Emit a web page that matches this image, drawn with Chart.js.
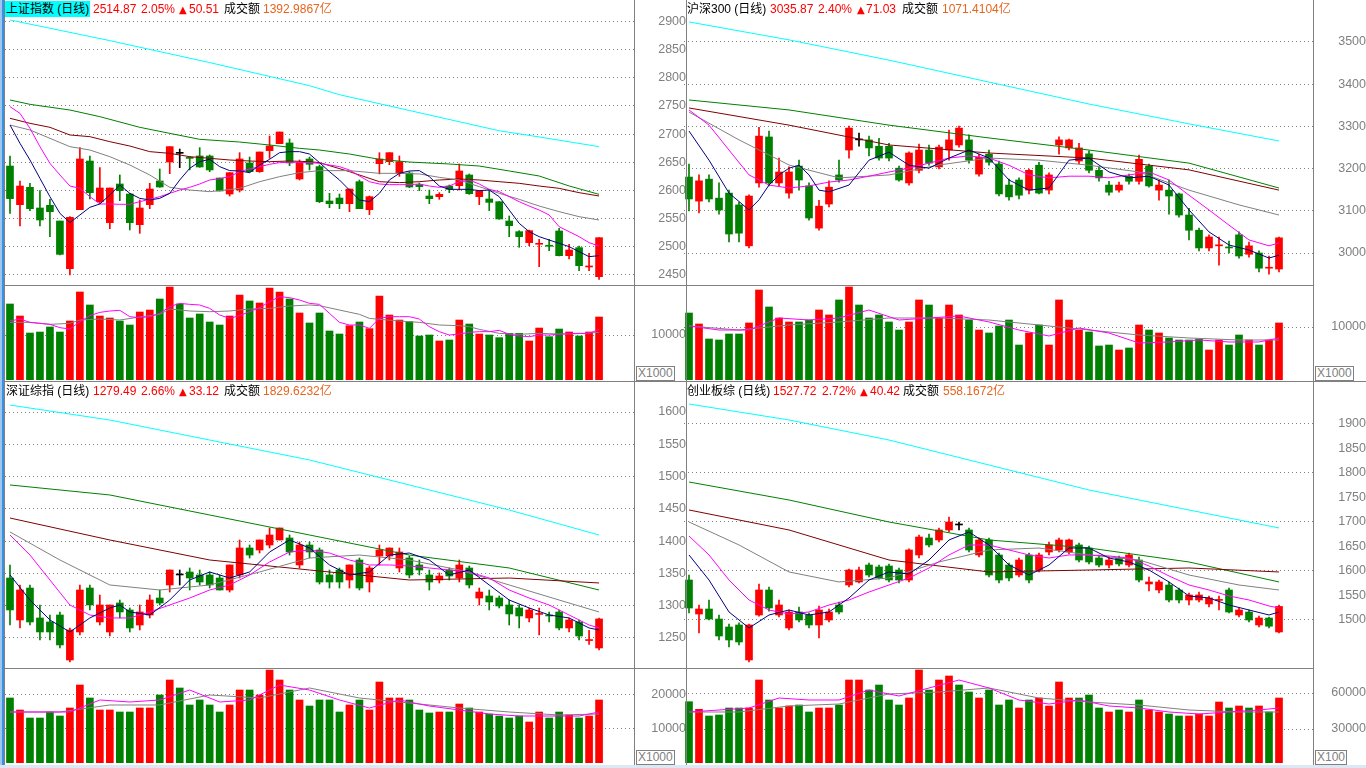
<!DOCTYPE html>
<html>
<head>
<meta charset="utf-8">
<script src="https://cdn.jsdelivr.net/npm/chart.js@4.4.0/dist/chart.umd.min.js"></script>
<style>
  body { margin: 0; width: 1366px; height: 768px; overflow: hidden; background: #fff; position: relative;
         font-family: "Liberation Sans", "Noto Sans CJK SC", sans-serif; }
  canvas { position: absolute; }
  .ln { position: absolute; background: #808080; }
  .hd { position: absolute; font-size: 12px; line-height: 16px; white-space: nowrap; top: 0; }
  .hd span { position: absolute; top: 1px; }
  .t { color: #000; }
  .r { color: #ff0000; }
  .o { color: #e8641e; }
  .tri { font-family: "DejaVu Sans", sans-serif; font-size: 10px; color: #ff0000; top: 2px !important; }
  .unit { position: absolute; border: 1px solid #808080; color: #808080; font-size: 12px; line-height: 13px;
          padding: 0 1px; background: #fff; }
</style>
</head>
<body>

<canvas id="shP" width="681" height="285" style="left:5px;top:0px"></canvas>
<canvas id="shV" width="681" height="94" style="left:5px;top:286px"></canvas>
<canvas id="hsP" width="682" height="285" style="left:684px;top:0px"></canvas>
<canvas id="hsV" width="682" height="94" style="left:684px;top:286px"></canvas>
<canvas id="szP" width="681" height="286" style="left:5px;top:382px"></canvas>
<canvas id="szV" width="681" height="94" style="left:5px;top:669px"></canvas>
<canvas id="cyP" width="682" height="286" style="left:684px;top:382px"></canvas>
<canvas id="cyV" width="682" height="94" style="left:684px;top:669px"></canvas>

<!-- panel frames -->
<div class="ln" style="left:634px;top:0;width:1px;height:765px"></div>
<div class="ln" style="left:686px;top:0;width:1px;height:765px"></div>
<div class="ln" style="left:1313px;top:0;width:1px;height:765px"></div>
<div class="ln" style="left:5px;top:285px;width:1309px;height:1px"></div>
<div class="ln" style="left:0;top:381px;width:1366px;height:1px"></div>
<div class="ln" style="left:5px;top:668px;width:1309px;height:1px"></div>
<div style="position:absolute;left:0;top:0;width:2px;height:768px;background:#9cc7ef"></div>
<div style="position:absolute;left:2px;top:0;width:2px;height:768px;background:#3d8fe0"></div>
<div class="ln" style="left:4px;top:0;width:1px;height:765px"></div>
<div style="position:absolute;left:0;top:765px;width:1366px;height:3px;background:#dde8f5"></div>

<div class="unit" style="left:636px;top:366px">X1000</div>
<div class="unit" style="left:1315px;top:366px">X1000</div>
<div class="unit" style="left:636px;top:750px">X1000</div>
<div class="unit" style="left:1315px;top:750px">X100</div>

<!-- headers -->
<div class="hd" style="left:0;top:0">
  <span class="t" style="left:5px;background:#00ffff;padding:0 1px;top:1px">上证指数 (日线)</span>
  <span class="r" style="left:93px">2514.87</span>
  <span class="r" style="left:141px">2.05%</span>
  <span class="tri" style="left:179px">▲</span>
  <span class="r" style="left:189px">50.51</span>
  <span class="t" style="left:224px">成交额</span>
  <span class="o" style="left:263px">1392.9867亿</span>
</div>
<div class="hd" style="left:0;top:0">
  <span class="t" style="left:687px">沪深300 (日线)</span>
  <span class="r" style="left:770px">3035.87</span>
  <span class="r" style="left:818px">2.40%</span>
  <span class="tri" style="left:857px">▲</span>
  <span class="r" style="left:866px">71.03</span>
  <span class="t" style="left:902px">成交额</span>
  <span class="o" style="left:942px">1071.4104亿</span>
</div>
<div class="hd" style="left:0;top:382px">
  <span class="t" style="left:6px">深证综指 (日线)</span>
  <span class="r" style="left:93px">1279.49</span>
  <span class="r" style="left:141px">2.66%</span>
  <span class="tri" style="left:179px">▲</span>
  <span class="r" style="left:189px">33.12</span>
  <span class="t" style="left:224px">成交额</span>
  <span class="o" style="left:263px">1829.6232亿</span>
</div>
<div class="hd" style="left:0;top:382px">
  <span class="t" style="left:687px">创业板综 (日线)</span>
  <span class="r" style="left:773px">1527.72</span>
  <span class="r" style="left:822px">2.72%</span>
  <span class="tri" style="left:860px">▲</span>
  <span class="r" style="left:870px">40.42</span>
  <span class="t" style="left:903px">成交额</span>
  <span class="o" style="left:943px">558.1672亿</span>
</div>

<script>
// 60 trading days; 3 empty slots keep the right margin of each panel
const N = 60;
const slots = Array.from({ length: 63 }, (_, i) => String(i));

// ---------- 上证指数 ----------
const shOpen = [2643.4,2574.8,2605.6,2568.9,2573.6,2545.8,2461.2,2565.9,2652.3,2580.1, 2542.9,2611.5,2593.7,2539.3,2574.8,2616.8,2650.5,2665.9,2658.5,2661.2, 2661.2,2622.1,2593.7,2600.8,2648.8,2633.4,2670.7,2683.1,2684.3,2620.4, 2655.9,2642.3,2581.3,2586.6,2576.6,2615.6,2565.9,2647.6,2651.1,2631.0, 2631.0,2610.3,2590.2,2589.0,2607.9,2608.5,2627.5,2589.0,2584.9,2580.1, 2545.8,2526.9,2507.4,2504.5,2501.6,2528.1,2484.3,2498.5,2464.2,2447.0];
const shHigh = [2661.2,2616.8,2612.7,2599.7,2584.3,2545.8,2553.5,2676.0,2661.2,2640.5, 2604.4,2627.5,2594.9,2583.1,2612.7,2638.1,2677.8,2673.6,2660.0,2676.0, 2663.0,2622.1,2631.6,2667.1,2659.4,2668.3,2696.7,2703.8,2691.4,2654.1, 2659.4,2645.2,2594.9,2593.7,2602.6,2618.6,2590.2,2667.1,2667.1,2661.2, 2633.4,2613.3,2600.8,2596.1,2609.7,2647.0,2629.3,2599.1,2600.8,2580.1, 2554.7,2528.7,2529.8,2513.3,2513.3,2532.8,2504.4,2501.4,2488.4,2516.2];
const shLow = [2559.4,2536.9,2564.2,2536.9,2518.0,2485.5,2450.0,2565.9,2584.9,2577.2, 2532.2,2581.9,2529.8,2523.9,2567.7,2605.6,2629.8,2640.5,2636.5,2641.1, 2633.4,2599.1,2590.2,2597.3,2632.2,2632.2,2657.0,2683.1,2644.0,2618.6, 2636.4,2578.4,2569.5,2567.7,2562.4,2567.7,2557.1,2629.3,2645.8,2625.1, 2605.0,2599.7,2576.6,2584.3,2596.1,2600.8,2593.1,2574.8,2564.2,2548.8, 2518.0,2499.1,2502.0,2464.7,2493.1,2483.7,2478.4,2457.6,2457.6,2442.3];
const shClose = [2585.5,2607.9,2567.7,2547.6,2562.4,2486.6,2552.3,2655.9,2596.1,2604.4, 2604.4,2599.7,2542.9,2568.9,2602.6,2606.2,2677.8,2665.9,2657.0,2641.7, 2636.4,2599.1,2631.6,2655.9,2633.4,2668.3,2679.0,2703.8,2648.8,2650.0, 2646.4,2580.1,2576.6,2576.6,2602.6,2567.7,2589.0,2655.9,2667.1,2651.1, 2606.2,2606.8,2585.5,2593.1,2602.0,2634.6,2594.3,2599.1,2578.9,2549.4, 2537.5,2518.0,2528.7,2505.5,2501.0,2484.3,2494.3,2466.5,2464.7,2516.2];
const shMa5 = [2716.2,2683.7,2654.1,2621.5,2589.0,2559.4,2542.9,2556.5,2570.1,2576.0, 2592.0,2609.7,2594.9,2586.0,2583.1,2586.0,2594.9,2618.6,2639.3,2651.1, 2655.3,2642.3,2635.2,2634.6,2631.6,2645.2,2655.3,2667.1,2668.9,2668.9, 2664.7,2649.4,2633.4,2618.6,2600.8,2583.1,2580.1,2594.9,2618.6,2630.4, 2634.6,2635.2,2624.5,2607.9,2602.0,2602.0,2602.0,2599.7,2600.8,2589.0, 2565.3,2541.7,2526.9,2518.0,2512.1,2506.2,2500.3,2491.4,2482.5,2484.3];
const shMa10 = [2748.8,2736.9,2710.3,2677.8,2648.2,2627.5,2608.0,2603.8,2589.0,2576.0, 2576.0,2575.4,2575.4,2580.1,2584.3,2589.0,2594.9,2600.8,2605.6,2611.5, 2618.6,2621.0,2624.5,2633.4,2638.1,2642.3,2646.4,2649.4,2650.0,2650.0, 2649.4,2648.2,2645.2,2642.3,2636.3,2625.7,2615.6,2611.5,2610.3,2610.3, 2610.3,2611.5,2607.9,2605.6,2607.9,2615.6,2618.6,2611.5,2602.0,2597.9, 2589.0,2580.1,2572.4,2565.3,2556.5,2535.7,2526.9,2518.0,2507.4,2501.4];
const shMa20 = [[0,2716.2],[2,2707.3],[4,2692.6],[6,2677.8],[8,2671.8],[10,2660.0],[12,2645.2],[14,2627.5],[16,2605.6],[18,2600.8],[20,2597.9],[21,2599.7],[23,2603.8],[25,2615.6],[27,2624.5],[29,2631.6],[31,2635.2],[34,2635.2],[37,2630.4],[39,2630.4],[41,2629.3],[43,2623.3],[45,2618.6],[47,2606.8],[49,2594.9],[51,2584.3],[53,2572.4],[55,2562.4],[57,2553.5],[59,2547.6]];
const shMa30 = [[0,2728.1],[2,2719.2],[4,2712.1],[6,2698.5],[8,2695.5],[10,2686.6],[12,2678.9],[14,2668.9],[16,2665.9],[18,2660.0],[20,2657.1],[22,2654.1],[24,2652.3],[26,2651.1],[28,2652.3],[30,2651.1],[31,2649.4],[34,2633.4],[37,2615.6],[39,2613.9],[41,2615.6],[43,2618.6],[45,2620.4],[47,2618.6],[49,2615.6],[51,2612.7],[53,2607.9],[55,2603.8],[57,2596.1],[59,2590.2]];
const shMa60 = [[0,2760.6],[2,2752.9],[6,2742.8],[9,2731.0],[13,2712.1],[16,2701.4],[19,2690.8],[23,2686.0],[26,2680.7],[29,2674.8],[31,2671.8],[34,2664.7],[37,2655.3],[40,2650.5],[44,2647.0],[47,2643.4],[50,2634.6],[53,2625.7],[56,2608.0],[59,2593.1]];
const shMa250 = [[0,2902.6],[10,2866.0],[20,2827.0],[30,2786.0],[33,2770.0],[40,2742.0],[49,2706.0],[53,2695.0],[59,2677.8]];
const shVol = [16890,14220,10440,10660,11780,10660,13110,19560,16670,14220, 13780,13110,12220,15110,15550,18000,20670,16890,13780,14670, 12890,12220,14220,18890,17560,17110,20440,19560,18000,14890, 12670,14890,10890,10220,12070,12890,11410,18670,14440,13330, 12960,9780,10000,8670,8890,13330,12440,10220,10000,9410, 10370,10370,8670,11550,9630,11330,10670,9780,10670,14000];
const shVma5 = [13110,13550,12810,12590,12370,11630,11330,12960,14300,15030, 15330,15480,14070,13850,14070,14810,16300,17030,16810,16670, 15920,14440,13700,14300,15180,16070,17410,18520,18300,17780, 17030,16810,14810,12810,12220,12220,11480,13700,14070,14070, 14070,13550,11850,10740,10000,10220,10590,10740,10740,11040, 10150,9780,9630,10000,10000,10150,10300,10370,10300,11260];
const shVma10 = [[0,12810],[2,12810],[4,12370],[6,12590],[7,13330],[9,13550],[11,13330],[13,14000],[15,14590],[16,15780],[18,15330],[20,15180],[22,15330],[24,15780],[26,15920],[28,16440],[30,16670],[31,16520],[33,15550],[35,14590],[36,13700],[37,13480],[39,13110],[41,12810],[43,12220],[45,12070],[46,11850],[47,11260],[49,10370],[51,10150],[53,10370],[55,10220],[57,10300],[59,10590]];
const shTicks = [2450,2500,2550,2600,2650,2700,2750,2800,2850,2900];
const shVolTicks = [10000];

// ---------- 沪深300 ----------
const hsOpen = [3180,3123,3175,3130,3142,3114,3017,3166,3275,3166, 3142,3206,3159,3059,3116,3185,3244,3268,3268,3253, 3253,3201,3166,3196,3244,3204,3244,3256,3268,3187, 3234,3211,3161,3173,3149,3208,3149,3256,3249,3218, 3235,3196,3161,3149,3182,3170,3206,3149,3149,3140, 3090,3054,3012,3017,3014,3043,2997,3000,2964,2962];
const hsHigh = [3211,3185,3185,3166,3149,3120,3138,3298,3289,3225, 3204,3220,3166,3125,3171,3220,3301,3284,3277,3272, 3260,3206,3240,3258,3256,3256,3291,3301,3280,3234, 3244,3218,3175,3178,3199,3215,3190,3275,3270,3260, 3242,3204,3170,3168,3187,3232,3211,3173,3173,3142, 3106,3059,3043,3038,3028,3050,3026,3005,2993,3038];
const hsLow = [3100,3095,3121,3092,3026,3026,3012,3156,3159,3159, 3130,3149,3078,3054,3109,3168,3225,3253,3230,3220, 3218,3170,3161,3190,3208,3199,3220,3251,3213,3182, 3208,3135,3125,3128,3140,3140,3140,3234,3244,3211, 3190,3170,3137,3144,3163,3163,3156,3125,3092,3085, 3031,3005,3005,2971,3000,2988,2990,2955,2950,2955];
const hsClose = [3128,3171,3128,3102,3045,3047,3135,3277,3166,3192, 3192,3173,3083,3111,3156,3173,3296,3268,3249,3225, 3225,3173,3237,3244,3213,3251,3268,3296,3220,3227, 3215,3140,3133,3137,3196,3142,3185,3268,3268,3249, 3196,3178,3144,3161,3170,3222,3159,3161,3135,3090, 3054,3012,3038,3019,3012,2993,3017,2964,2965,3036];
const hsMa5 = [[0,3289],[2,3220],[4,3142],[6,3102],[7,3126],[8,3161],[9,3185],[10,3201],[11,3208],[12,3185],[13,3149],[14,3145],[16,3161],[18,3220],[20,3239],[22,3208],[24,3201],[26,3225],[28,3244],[30,3225],[32,3173],[34,3149],[36,3154],[38,3220],[40,3225],[42,3192],[44,3178],[46,3182],[48,3161],[50,3102],[52,3050],[54,3019],[56,3007],[58,2988],[59,2995]];
const hsMa10 = [[0,3339],[2,3303],[4,3244],[6,3185],[8,3161],[10,3154],[12,3159],[14,3168],[16,3173],[18,3182],[20,3192],[22,3201],[24,3213],[26,3225],[28,3230],[30,3225],[32,3208],[34,3185],[36,3178],[38,3182],[40,3182],[42,3178],[44,3185],[46,3192],[48,3173],[50,3137],[52,3102],[54,3066],[56,3031],[58,3017],[59,3024]];
const hsMa20 = [[0,3334],[5,3268],[10,3208.6],[15,3178],[20,3185],[25,3208.6],[30,3225],[35,3220],[40,3208],[45,3192],[50,3149],[55,3114],[59,3090]];
const hsMa30 = [[0,3343.7],[10,3303],[20,3256],[30,3237],[40,3225],[50,3197],[59,3149]];
const hsMa60 = [[0,3362.6],[10,3339],[20,3303],[30,3272.6],[40,3244],[50,3213],[59,3154]];
const hsMa250 = [[0,3547.5],[10,3505],[20,3457],[30,3405],[40,3353],[50,3306],[59,3265.4]];
const hsVol = [12640,10570,7740,7550,8680,8680,10760,16980,13780,11700, 10950,10950,11320,13210,12270,15100,17550,14150,11700,12270, 10950,9430,10950,15100,14150,11700,14150,12270,11320,9430, 8870,10190,11320,6600,8870,10380,6600,15100,11320,9430, 9060,6420,6600,5660,6040,10380,9430,8870,7930,7550, 7550,7740,5660,7550,6600,8490,7550,6600,7550,10760];
const hsVma5 = [[0,10190],[3,9430],[6,9430],[9,11700],[12,11320],[15,11700],[18,13210],[21,11320],[24,11700],[27,12080],[30,10950],[33,9430],[36,8300],[39,9810],[42,8870],[45,6980],[48,7170],[51,7550],[54,7170],[57,7170],[59,7930]];
const hsVma10 = [[0,10190],[5,9430],[10,10380],[15,10950],[20,11700],[25,11700],[30,11320],[35,10380],[40,9430],[45,8490],[50,7930],[55,7550],[59,7550]];
const hsTicks = [3000,3100,3200,3300,3400,3500];
const hsVolTicks = [10000];

// ---------- 深证综指 ----------
const szOpen = [1342.9,1277.9,1327.4,1281.0,1274.8,1285.6,1215.9,1259.3,1327.4,1274.8, 1259.3,1304.2,1293.4,1270.1,1285.6,1311.9,1332.1,1347.6,1352.2,1347.6, 1347.6,1342.9,1324.3,1347.6,1389.4,1386.3,1394.0,1401.8,1404.9,1363.1, 1394.0,1386.3,1347.6,1355.3,1339.8,1370.8,1336.7,1377.0,1377.0,1358.4, 1373.9,1363.1,1347.6,1339.8,1355.3,1342.9,1358.4,1311.9,1315.0,1311.9, 1301.1,1296.5,1281.0,1286.5,1284.8,1290.3,1265.5,1274.8,1246.0,1234.5];
const szHigh = [1363.1,1332.1,1332.1,1301.1,1285.6,1290.3,1265.5,1332.1,1332.1,1316.6, 1301.1,1308.8,1296.5,1301.1,1316.6,1324.3,1355.3,1355.3,1358.4,1355.3, 1352.2,1347.6,1363.1,1401.8,1394.0,1401.8,1420.4,1420.4,1409.5,1398.7, 1398.7,1389.4,1355.3,1358.4,1363.1,1373.9,1361.5,1394.0,1389.4,1389.4, 1377.0,1370.8,1355.3,1350.7,1358.4,1370.8,1361.5,1327.4,1324.3,1315.0, 1308.8,1301.1,1296.5,1296.5,1290.3,1293.4,1281.0,1277.9,1262.0,1281.0];
const szLow = [1270.1,1265.5,1270.1,1246.9,1246.9,1234.5,1212.8,1254.6,1293.4,1270.1, 1253.1,1281.0,1259.3,1262.4,1281.0,1301.1,1321.2,1332.1,1324.3,1332.1, 1327.4,1324.3,1321.2,1342.9,1373.9,1381.6,1389.4,1401.8,1378.5,1358.4, 1373.9,1333.6,1327.4,1327.4,1327.4,1324.3,1321.2,1363.1,1370.8,1352.2, 1342.9,1347.6,1324.3,1335.2,1339.8,1336.7,1327.4,1301.1,1293.4,1296.5, 1270.1,1265.5,1274.8,1254.6,1274.8,1262.4,1259.3,1246.9,1240.0,1231.4];
const szClose = [1293.4,1324.3,1274.8,1259.3,1259.3,1239.2,1262.4,1324.3,1301.1,1301.1, 1301.1,1290.3,1265.5,1290.3,1308.8,1304.2,1355.3,1347.6,1342.9,1336.7, 1332.1,1324.3,1363.1,1389.4,1378.5,1401.8,1409.5,1420.4,1383.2,1394.0, 1383.2,1336.7,1336.7,1336.7,1363.1,1327.4,1358.4,1386.3,1389.4,1383.2, 1347.6,1355.3,1336.7,1346.0,1346.0,1363.1,1332.1,1321.2,1305.8,1299.6, 1287.2,1284.1,1293.4,1287.2,1284.1,1265.5,1277.9,1253.1,1246.4,1279.5];
const szMa5 = [[0,1347.6],[2,1308.8],[4,1277.9],[6,1259.3],[8,1281.0],[10,1296.5],[11,1301.1],[12,1290.3],[14,1285.6],[16,1308.8],[18,1339.8],[20,1352.2],[22,1342.9],[24,1352.2],[26,1383.2],[28,1401.8],[30,1389.4],[32,1363.1],[34,1347.6],[36,1352.2],[38,1378.5],[40,1381.6],[42,1370.8],[44,1347.6],[46,1355.3],[48,1332.1],[50,1308.8],[52,1296.5],[54,1285.6],[56,1281.0],[58,1265.5],[59,1262.4]];
const szMa10 = [[0,1409.5],[2,1378.5],[4,1339.8],[6,1301.1],[8,1285.6],[10,1281.0],[12,1281.0],[14,1290.3],[16,1301.1],[18,1311.9],[20,1324.3],[22,1332.1],[24,1347.6],[26,1367.7],[28,1383.2],[30,1386.3],[32,1381.6],[34,1370.8],[36,1363.1],[38,1363.1],[40,1361.5],[42,1358.4],[44,1355.3],[46,1352.2],[48,1342.9],[50,1324.3],[52,1311.9],[54,1301.1],[56,1285.6],[58,1270.1],[59,1265.5]];
const szMa20 = [[0,1414.2],[5,1370.8],[10,1332.1],[15,1324.3],[20,1332.1],[25,1352.2],[30,1373.9],[35,1378.5],[40,1370.8],[45,1355.3],[50,1332.1],[55,1308.8],[59,1290.3]];
const szMa30 = [[0,1435.8],[10,1401.8],[20,1370.8],[30,1355.3],[40,1339.8],[50,1342.9],[59,1335.2]];
const szMa60 = [[0,1487.0],[10,1471.5],[20,1440.5],[30,1409.5],[40,1378.5],[50,1358.4],[59,1324.3]];
const szMa250 = [[0,1610.8],[10,1587.6],[20,1556.6],[30,1525.7],[40,1487.0],[50,1448.2],[59,1409.5]];
const szVol = [19120,15590,13230,13230,15000,13820,16180,22940,19120,15590, 15590,15000,15000,16180,16180,20000,24410,22060,17060,18530, 17060,15000,17060,21470,21470,20000,27350,24410,21470,18530, 16760,18530,18530,15000,17060,18530,15590,23820,19120,19120, 18530,15590,14710,15000,15000,17350,16180,15000,14410,13820, 13230,13820,12060,15000,13230,15000,14120,13230,13820,18530];
const szVma5 = [[0,15000],[3,15000],[6,15000],[9,18530],[12,17940],[15,18530],[18,21470],[21,17940],[24,18530],[27,22940],[30,21470],[33,18530],[36,16180],[39,18530],[42,16760],[45,15590],[48,14410],[51,13820],[54,13820],[57,13820],[59,15000]];
const szVma10 = [[0,15000],[5,15000],[10,17060],[15,17060],[20,20000],[25,19120],[30,22060],[35,19120],[40,17650],[45,16180],[50,15000],[55,14120],[59,14410]];
const szTicks = [1250,1300,1350,1400,1450,1500,1550,1600];
const szVolTicks = [10000,20000];

// ---------- 创业板综 ----------
const cyOpen = [1581.6,1512.2,1522.4,1502.0,1485.7,1489.8,1418.4,1510.2,1561.2,1510.2, 1483.7,1516.3,1510.2,1489.8,1500.0,1530.6,1571.4,1577.6,1612.2,1608.2, 1610.2,1602.0,1581.6,1632.7,1667.3,1663.3,1683.7,1693.9,1683.7,1632.7, 1663.3,1632.7,1612.2,1591.8,1632.7,1602.0,1638.8,1642.9,1638.8,1653.1, 1646.9,1626.5,1612.2,1626.5,1612.2,1622.4,1573.5,1561.2,1571.4,1561.2, 1540.8,1540.8,1532.7,1540.0,1561.2,1510.2,1516.3,1489.8,1504.0,1475.5];
const cyHigh = [1591.8,1530.6,1540.8,1510.2,1491.8,1494.0,1491.8,1573.5,1567.0,1540.8, 1520.4,1526.5,1514.3,1528.6,1522.4,1536.7,1604.1,1608.2,1616.3,1612.2, 1614.3,1606.1,1645.0,1673.5,1675.5,1687.8,1710.2,1700.0,1687.8,1667.3, 1667.3,1636.7,1616.3,1626.5,1636.7,1636.7,1659.2,1667.3,1665.3,1657.1, 1651.0,1632.7,1628.6,1630.6,1636.7,1628.6,1587.8,1581.6,1577.6,1565.3, 1555.1,1557.1,1549.0,1549.0,1565.3,1524.5,1520.4,1508.2,1506.0,1530.6];
const cyLow = [1514.3,1473.5,1500.0,1459.2,1444.9,1449.0,1414.3,1508.0,1518.0,1506.0, 1479.6,1496.0,1483.7,1463.3,1496.0,1512.2,1567.3,1575.5,1587.8,1583.7, 1577.6,1575.5,1577.6,1626.5,1649.0,1659.2,1679.6,1683.7,1638.8,1628.6, 1587.8,1575.5,1579.6,1587.8,1575.5,1598.0,1632.7,1638.8,1634.7,1618.4, 1614.3,1608.2,1606.1,1610.2,1608.2,1577.6,1559.2,1555.1,1536.7,1534.7, 1530.6,1536.7,1526.5,1520.4,1514.3,1506.1,1496.0,1485.7,1483.7,1473.5];
const cyClose = [1524.5,1522.4,1502.0,1467.3,1459.2,1455.1,1489.8,1561.2,1524.5,1530.6, 1516.3,1500.0,1489.8,1520.4,1516.3,1516.3,1602.0,1602.0,1591.8,1585.7, 1581.6,1581.6,1642.9,1669.4,1653.1,1683.7,1700.0,1693.9,1642.9,1663.3, 1591.8,1581.6,1585.7,1622.4,1581.6,1632.7,1653.1,1663.3,1663.3,1622.4, 1618.4,1612.2,1622.4,1614.3,1632.7,1581.6,1577.6,1577.6,1540.8,1540.8, 1551.0,1551.0,1544.9,1540.8,1516.3,1520.4,1500.0,1504.1,1487.3,1527.7];
const cyMa5 = [[0,1632.7],[2,1581.6],[4,1516.3],[6,1483.7],[8,1510.2],[10,1520.4],[12,1510.2],[14,1516.3],[16,1544.9],[18,1581.6],[20,1598.0],[22,1593.9],[24,1622.4],[26,1663.3],[28,1679.6],[30,1653.1],[32,1612.2],[34,1591.8],[36,1612.2],[38,1646.9],[40,1646.9],[42,1626.5],[44,1618.4],[46,1602.0],[48,1577.6],[50,1549.0],[52,1544.9],[54,1530.6],[56,1520.4],[58,1510.2],[59,1516.3]];
const cyMa10 = [[0,1671.4],[2,1632.7],[4,1581.6],[6,1540.8],[8,1520.4],[10,1512.2],[12,1516.3],[14,1530.6],[16,1540.8],[18,1557.1],[20,1571.4],[22,1585.7],[24,1606.1],[26,1632.7],[28,1653.1],[30,1653.1],[32,1642.9],[34,1632.7],[36,1626.5],[38,1632.7],[40,1632.7],[42,1630.6],[44,1626.5],[46,1610.2],[48,1589.8],[50,1571.4],[52,1561.2],[54,1549.0],[56,1540.8],[58,1528.6],[59,1524.5]];
const cyMa20 = [[0,1700.0],[5,1653.1],[10,1598.0],[15,1577.6],[20,1585.7],[25,1618.4],[30,1642.9],[35,1646.9],[40,1632.7],[45,1622.4],[50,1591.8],[55,1571.4],[59,1561.2]];
const cyMa30 = [[0,1724.5],[10,1683.7],[20,1622.4],[30,1598.0],[40,1602.0],[50,1606.1],[59,1598.0]];
const cyMa60 = [[0,1781.6],[10,1744.9],[20,1700.0],[30,1663.3],[40,1646.9],[50,1618.4],[59,1577.6]];
const cyMa250 = [[0,1940.8],[10,1908.2],[20,1867.3],[30,1816.3],[40,1765.3],[50,1724.5],[59,1687.8]];
const cyVol = [52750,46400,40830,41670,47500,47500,47500,70830,54170,47500, 49170,50000,44170,47500,47500,50000,70830,70830,62500,66670, 54170,50000,55830,79170,62500,70830,74170,66670,60830,55830, 62500,50000,54170,47500,54170,55830,49170,69170,55830,55830, 58330,47500,44170,45830,44170,54170,45830,44170,42500,40830, 40830,42500,40830,52500,47500,49170,47500,49170,44170,55830];
const cyVma5 = [[0,44170],[3,45830],[6,47500],[9,55830],[12,54170],[15,54170],[18,62500],[21,57500],[24,64170],[27,70830],[30,64170],[33,54170],[36,50830],[39,54170],[42,49170],[45,47500],[48,44170],[51,42500],[54,44170],[57,45830],[59,47500]];
const cyVma10 = [[0,44170],[5,44170],[10,49170],[15,50830],[20,59170],[25,60830],[30,64170],[35,55830],[40,52500],[45,50000],[50,45830],[55,44170],[59,44170]];
const cyTicks = [1500,1550,1600,1650,1700,1750,1800,1850,1900];
const cyVolTicks = [30000,60000];

// colours
const UP = '#ff0000', DOWN = '#008000', DOJI = '#000000';
const MA_COLORS = ['#000080', '#ff00ff', '#808080', '#800000', '#008000', '#00ffff'];
const VMA_COLORS = ['#ff00ff', '#808080'];

// full array or [index, value] pairs -> 60-slot array (gaps are bridged by spanGaps)
function series(src) {
  if (typeof src[0] === 'number') return src;
  const out = new Array(N).fill(null);
  src.forEach(([i, v]) => { out[i] = v; });
  return out;
}

function lineSet(src, color) {
  return { type: 'line', data: series(src), borderColor: color, borderWidth: 1, pointRadius: 0,
           spanGaps: true, tension: 0, order: 0 };
}

function axisOptions(yMin, yMax, ticks, pad, gridStep) {
  return {
    responsive: false, animation: false, devicePixelRatio: 1,
    layout: { padding: 0 },
    plugins: { legend: { display: false }, tooltip: { enabled: false } },
    scales: {
      x: { display: false, offset: true },
      y: {
        position: 'right', min: yMin, max: yMax,
        afterBuildTicks: s => { s.ticks = ticks.map(v => ({ value: v })); },
        afterFit: s => { s.width = 52; s.paddingTop = 0; s.paddingBottom = 0; },
        grid: {
          drawTicks: false, lineWidth: 1,
          color: ctx => (!gridStep || ctx.tick.value % gridStep === 0) ? '#808080' : 'rgba(0,0,0,0)'
        },
        border: { display: false, dash: [1, 3] },
        ticks: { color: '#808080', padding: pad, crossAlign: 'far', autoSkip: false,
                 callback: v => String(v),
                 font: { family: 'Liberation Sans', size: 12.5 } }
      }
    }
  };
}

function candleColors(o, c) {
  return o.map((v, i) => c[i] > v ? UP : (c[i] < v ? DOWN : DOJI));
}

function priceChart(id, o, h, l, c, mas, yMin, yMax, ticks, gridStep) {
  const col = candleColors(o, c);
  new Chart(document.getElementById(id), {
    type: 'bar',
    data: {
      labels: slots,
      datasets: [
        ...mas.map((m, k) => lineSet(m, MA_COLORS[k])),
        { data: o.map((v, i) => [v, c[i]]), backgroundColor: col, barThickness: 7, minBarLength: 1,
          grouped: false, borderWidth: 0, order: 1 },
        { data: l.map((v, i) => [v, h[i]]), backgroundColor: col, barThickness: 1,
          grouped: false, borderWidth: 0, order: 2 }
      ]
    },
    options: axisOptions(yMin, yMax, ticks, 21, gridStep)
  });
}

function volumeChart(id, vol, o, c, vmas, yMin, yMax, ticks) {
  const col = o.map((v, i) => c[i] > v ? UP : DOWN);
  new Chart(document.getElementById(id), {
    type: 'bar',
    data: {
      labels: slots,
      datasets: [
        ...vmas.map((m, k) => lineSet(m, VMA_COLORS[k])),
        { data: vol, backgroundColor: col, barThickness: 7, grouped: false, borderWidth: 0, order: 1 }
      ]
    },
    options: axisOptions(yMin, yMax, ticks, 14, 0)
  });
}

priceChart('shP', shOpen, shHigh, shLow, shClose, [shMa5, shMa10, shMa20, shMa30, shMa60, shMa250], 2432.2, 2938.1, shTicks, 0);
volumeChart('shV', shVol, shOpen, shClose, [shVma5, shVma10], 0, 20889, shVolTicks);

priceChart('hsP', hsOpen, hsHigh, hsLow, hsClose, [hsMa5, hsMa10, hsMa20, hsMa30, hsMa60, hsMa250], 2924.2, 3599.5, hsTicks, 0);
volumeChart('hsV', hsVol, hsOpen, hsClose, [hsVma5, hsVma10], 0, 17736, hsVolTicks);

priceChart('szP', szOpen, szHigh, szLow, szClose, [szMa5, szMa10, szMa20, szMa30, szMa60, szMa250], 1203.5, 1646.5, szTicks, 0);
volumeChart('szV', szVol, szOpen, szClose, [szVma5, szVma10], 0, 27647, szVolTicks);

priceChart('cyP', cyOpen, cyHigh, cyLow, cyClose, [cyMa5, cyMa10, cyMa20, cyMa30, cyMa60, cyMa250], 1402.0, 1985.7, cyTicks, 100);
volumeChart('cyV', cyVol, cyOpen, cyClose, [cyVma5, cyVma10], 1667, 80000, cyVolTicks);
</script>
</body>
</html>
